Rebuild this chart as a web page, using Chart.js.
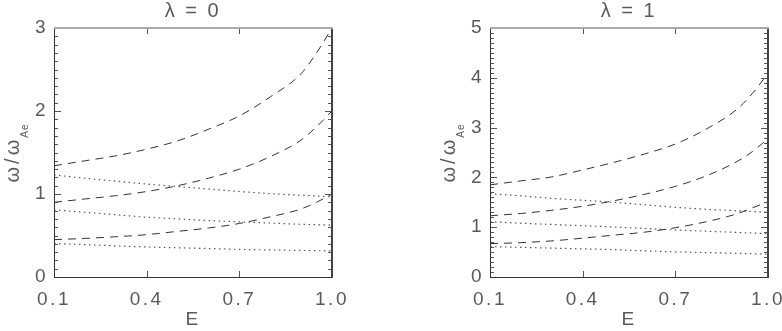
<!DOCTYPE html>
<html>
<head>
<meta charset="utf-8">
<script src="https://cdn.jsdelivr.net/npm/chart.js@4.4.1/dist/chart.umd.min.js"></script>
<style>
  html, body { margin: 0; padding: 0; background: #fff; overflow: hidden; width: 782px; height: 331px; }
  #left { position: absolute; left: 0; top: 0; }
  #right { position: absolute; left: 391px; top: 0; }
</style>
</head>
<body>
<canvas id="left" width="391" height="331"></canvas>
<canvas id="right" width="430" height="331"></canvas>
<script>
// ---- data ----
const eDash = [0.1, 0.2, 0.3, 0.4, 0.5, 0.6, 0.7, 0.8, 0.9, 0.95, 1.0];
const eDot  = [0.1, 0.2, 0.3, 0.4, 0.5, 0.6, 0.7, 0.8, 0.9, 1.0];
const xTicks = [0.1, 0.4, 0.7, 1.0];
const yTicksLeft = [0, 1, 2, 3];
const yTicksRight = [0, 1, 2, 3, 4, 5];
const titles = ['λ = 0', 'λ = 1'];
const xTitle = 'E';
const yTitleMain = 'ω/ω';
const yTitleSub = 'Ae';

// λ = 0
const leftDash3 = [1.34, 1.40, 1.46, 1.54, 1.64, 1.78, 1.94, 2.17, 2.45, 2.70, 3.00];
const leftDash2 = [0.90, 0.94, 0.98, 1.03, 1.10, 1.19, 1.30, 1.45, 1.65, 1.81, 2.00];
const leftDash1 = [0.45, 0.465, 0.485, 0.51, 0.55, 0.59, 0.645, 0.725, 0.82, 0.90, 1.00];
const leftDot3  = [1.23, 1.19, 1.155, 1.12, 1.09, 1.06, 1.03, 1.005, 0.985, 0.965];
const leftDot2  = [0.81, 0.78, 0.75, 0.72, 0.70, 0.68, 0.665, 0.65, 0.635, 0.625];
const leftDot1  = [0.405, 0.39, 0.375, 0.362, 0.352, 0.343, 0.333, 0.326, 0.32, 0.314];

// λ = 1
const rightDash3 = [1.85, 1.93, 2.01, 2.15, 2.30, 2.47, 2.67, 2.97, 3.37, 3.69, 4.09];
const rightDash2 = [1.23, 1.275, 1.34, 1.42, 1.53, 1.66, 1.82, 2.03, 2.32, 2.52, 2.78];
const rightDash1 = [0.67, 0.69, 0.725, 0.78, 0.84, 0.90, 0.99, 1.11, 1.27, 1.39, 1.51];
const rightDot3  = [1.67, 1.63, 1.58, 1.54, 1.50, 1.45, 1.40, 1.36, 1.33, 1.30];
const rightDot2  = [1.11, 1.08, 1.055, 1.03, 1.005, 0.975, 0.945, 0.92, 0.895, 0.87];
const rightDot1  = [0.61, 0.595, 0.58, 0.565, 0.55, 0.525, 0.505, 0.49, 0.475, 0.46];

// ---- drawing ----
const FONT = '"Liberation Sans", Arial, sans-serif';
const TEXT = '#5a5a5a';
Chart.defaults.font.family = FONT;
Chart.defaults.color = TEXT;

const spacing = {
  id: 'spacing',
  beforeLayout(c) { c.ctx.letterSpacing = '2.5px'; },
  beforeDraw(c) { c.ctx.letterSpacing = '2.5px'; }
};

const frame = {
  id: 'frame',
  afterDraw(chart) {
    const { ctx, chartArea: a, scales: { x, y } } = chart;
    ctx.save();
    ctx.setLineDash([]);
    const seg = (x1, y1, x2, y2, col) => {
      ctx.fillStyle = col;
      ctx.fillRect(Math.min(x1, x2), Math.min(y1, y2), Math.max(Math.abs(x2 - x1), 1), Math.max(Math.abs(y2 - y1), 1));
    };
    const left = Math.round(a.left), right = Math.round(a.right);
    const top = Math.round(a.top), bottom = Math.round(a.bottom);
    const n = Math.round(y.max / 0.1);
    for (let k = 1; k < n; k++) {
      const py = Math.round(y.getPixelForValue(k * 0.1));
      const len = (k % 10 === 0) ? 7 : 4;
      seg(left, py, left + len, py, '#555');
      seg(right - len, py, right, py, '#555');
    }
    xTicks.forEach(v => {
      const px = Math.round(x.getPixelForValue(v));
      seg(px, bottom - 6, px, bottom, '#555');
      seg(px, top, px, top + 6, '#555');
    });
    seg(left, top, left + 1, bottom + 1, '#333');
    seg(left, bottom, right + 1, bottom + 1, '#333');
    seg(right - 1, top, right + 1, bottom + 1, '#444');
    seg(left, top - 1, right + 1, top + 1, '#aaa');

    // y-axis title with subscript
    ctx.fillStyle = TEXT;
    ctx.translate(a.left - 35, (a.top + a.bottom) / 2);
    ctx.rotate(-Math.PI / 2);
    ctx.textAlign = 'left';
    ctx.textBaseline = 'alphabetic';
    ctx.font = '20px ' + FONT;
    ctx.letterSpacing = '3px';
    const w1 = ctx.measureText(yTitleMain).width;
    ctx.font = '10px ' + FONT;
    ctx.letterSpacing = '1px';
    const w2 = ctx.measureText(yTitleSub).width;
    const x0 = -(w1 + w2) / 2;
    ctx.font = '20px ' + FONT;
    ctx.letterSpacing = '3px';
    ctx.fillText(yTitleMain, x0, 0);
    ctx.font = '10px ' + FONT;
    ctx.letterSpacing = '1px';
    ctx.fillText(yTitleSub, x0 + w1 - 1, 9);
    ctx.restore();
  }
};

function dashed(xs, ys) {
  return { data: xs.map((e, i) => ({ x: e, y: ys[i] })), borderColor: '#333', borderWidth: 1,
           borderDash: [8, 6], pointRadius: 0, cubicInterpolationMode: 'monotone', fill: false };
}
function dotted(xs, ys) {
  return { data: xs.map((e, i) => ({ x: e, y: ys[i] })), borderColor: '#555', borderWidth: 1.2,
           borderDash: [1.5, 3.5], pointRadius: 0, cubicInterpolationMode: 'monotone', fill: false };
}

function panel(id, title, yTicks, yAxisWidth, padRight, sets) {
  new Chart(document.getElementById(id), {
    type: 'line',
    data: { datasets: sets },
    options: {
      responsive: false, animation: false, devicePixelRatio: 1,
      layout: { padding: { left: 0, right: padRight, top: 0, bottom: 0 } },
      plugins: {
        legend: { display: false }, tooltip: { enabled: false },
        title: { display: true, text: title, fullSize: false, color: TEXT,
                 font: { size: 20, weight: 'normal', lineHeight: 1.0 }, padding: { top: 1, bottom: 7 } }
      },
      scales: {
        x: {
          type: 'linear', min: 0.1, max: 1.0,
          afterBuildTicks: s => { s.ticks = xTicks.map(v => ({ value: v })); },
          afterFit: s => { s.height = 54; },
          grid: { display: false, drawTicks: false }, border: { display: false },
          ticks: { autoSkip: false, maxRotation: 0, padding: 11, color: TEXT,
                   font: { size: 19 }, callback: v => Number(v).toFixed(1) },
          title: { display: true, text: xTitle, color: TEXT, font: { size: 19 }, padding: { top: 0, bottom: 0 } }
        },
        y: {
          type: 'linear', min: 0, max: yTicks[yTicks.length - 1],
          afterBuildTicks: s => { s.ticks = yTicks.map(v => ({ value: v })); },
          afterFit: s => { s.width = yAxisWidth; },
          grid: { display: false, drawTicks: false }, border: { display: false },
          ticks: { padding: 6, color: TEXT, font: { size: 19 }, callback: v => String(v) }
        }
      }
    },
    plugins: [spacing, frame]
  });
}

panel('left', titles[0], yTicksLeft, 54, 59, [
  dashed(eDash, leftDash3), dashed(eDash, leftDash2), dashed(eDash, leftDash1),
  dotted(eDot, leftDot3), dotted(eDot, leftDot2), dotted(eDot, leftDot1)
]);
panel('right', titles[1], yTicksRight, 99, 53, [
  dashed(eDash, rightDash3), dashed(eDash, rightDash2), dashed(eDash, rightDash1),
  dotted(eDot, rightDot3), dotted(eDot, rightDot2), dotted(eDot, rightDot1)
]);
</script>
</body>
</html>
